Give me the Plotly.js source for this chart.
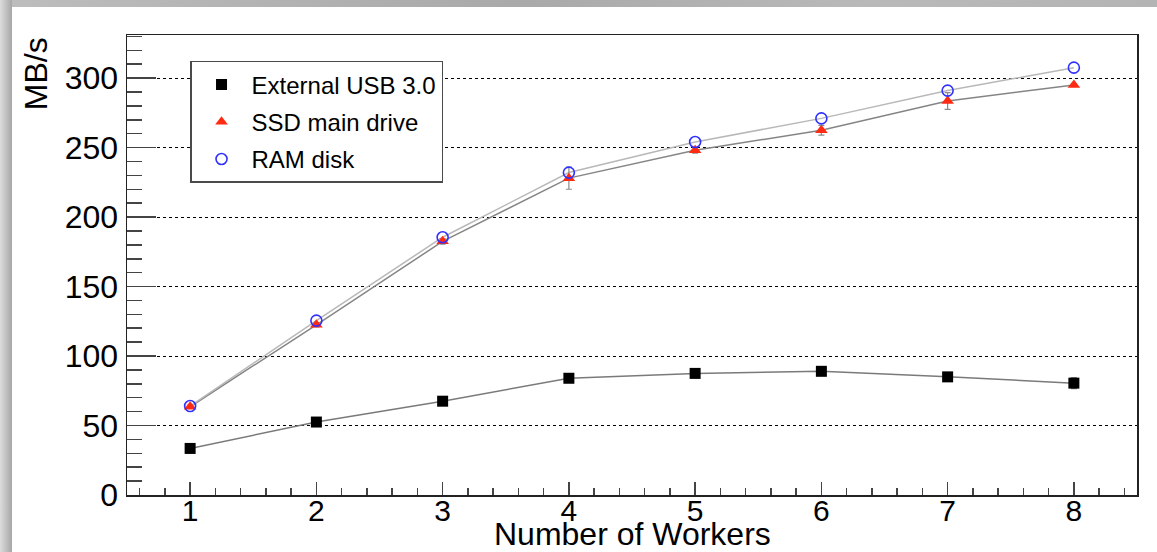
<!DOCTYPE html>
<html>
<head>
<meta charset="utf-8">
<script src="https://cdn.plot.ly/plotly-3.0.1.min.js"></script>
<style>
  html, body { margin: 0; padding: 0; }
  body { width: 1157px; height: 552px; overflow: hidden; position: relative; background: #ffffff; }
  #shadeTop { position: absolute; left: 0; top: 0; width: 1157px; height: 7px;
    background: linear-gradient(to right, #bdbdbd 0%, #a9a9a9 45%, #b9b9b9 75%, #b4b4b4 100%); }
  #shadeLeft { position: absolute; left: 0; top: 0; width: 12px; height: 552px;
    background: linear-gradient(to right, #dcdcdc 0%, #c2c2c2 50%, #a6a6a6 100%); }
  #chart { position: absolute; left: 12px; top: 7px; width: 1145px; height: 545px; }
</style>
</head>
<body>
<div id="shadeTop"></div>
<div id="shadeLeft"></div>
<div id="chart"></div>
<script>
// ---- data ----
const workers = [1, 2, 3, 4, 5, 6, 7, 8];

const usbName = "External USB 3.0";
const usbValues = [33.5, 52.5, 67.5, 84, 87.5, 89, 85, 80.5];
const usbErrors = [1, 1, 1, 1.5, 1, 1, 1.5, 4];

const ssdName = "SSD main drive";
const ssdValues = [63.5, 122.5, 182.5, 228, 248, 262.5, 283.5, 295];
const ssdErrors = [1, 1.5, 2, 8, 2, 3.5, 6, 1];

const ramName = "RAM disk";
const ramValues = [64, 125.5, 185.5, 232, 254, 271, 291, 307.5];

const xTitle = "Number of Workers";
const yTitle = "MB/s";

// ---- styling ----
const FONT = "'Liberation Sans', Arial, Helvetica, sans-serif";

function lineTrace(y, color) {
  return { x: workers, y: y, type: 'scatter', mode: 'lines', showlegend: false,
    hoverinfo: 'skip', line: { color: color, width: 1.5 } };
}
function markTrace(name, y, err, marker, group) {
  const t = { x: workers, y: y, name: name, type: 'scatter', mode: 'markers',
    legendgroup: group, marker: marker };
  if (err) {
    t.error_y = { type: 'data', array: err, visible: true, color: '#8a8a8a', thickness: 1.2, width: 3 };
  }
  return t;
}

const traces = [
  lineTrace(usbValues, '#7a7a7a'),
  lineTrace(ssdValues, '#858585'),
  lineTrace(ramValues, '#b8b8b8'),
  markTrace(usbName, usbValues, usbErrors, { symbol: 'square', size: 11, color: '#000000' }, 'g1'),
  markTrace(ssdName, ssdValues, ssdErrors, { symbol: 'triangle-up', size: 11, color: '#ff2a12' }, 'g2'),
  markTrace(ramName, ramValues, null, { symbol: 'circle-open', size: 11, color: '#3030ff', line: { width: 1.6, color: '#3030ff' } }, 'g3')
];

const layout = {
  width: 1145, height: 545,
  margin: { l: 115, r: 20, t: 28, b: 57 },
  paper_bgcolor: '#ffffff', plot_bgcolor: '#ffffff',
  font: { family: FONT, color: '#000000' },
  showlegend: true,
  legend: {
    x: 0.0624, y: 0.9435, xanchor: 'left', yanchor: 'top',
    bgcolor: '#ffffff', bordercolor: '#4a4a4a', borderwidth: 1.5,
    font: { family: FONT, size: 24, color: '#000000' },
    itemwidth: 50, tracegroupgap: 3
  },
  xaxis: {
    range: [0.5, 8.5], tick0: 0, dtick: 1,
    ticks: 'inside', ticklen: 13, tickwidth: 1.5, tickcolor: '#444444',
    minor: { dtick: 0.2, tick0: 0, ticks: 'inside', ticklen: 7, tickwidth: 1.5, tickcolor: '#444444', showgrid: false },
    showgrid: false, zeroline: false,
    showline: true, mirror: true, linecolor: '#222222', linewidth: 1.5,
    tickfont: { family: FONT, size: 30, color: '#000000' },
    ticklabelstandoff: -12,
    automargin: false
  },
  yaxis: {
    range: [0, 331], tick0: 0, dtick: 50,
    ticks: 'inside', ticklen: 29, tickwidth: 1.5, tickcolor: '#444444',
    minor: { dtick: 10, tick0: 0, ticks: 'inside', ticklen: 15, tickwidth: 1.5, tickcolor: '#444444', showgrid: false },
    showgrid: true, gridcolor: '#000000', gridwidth: 1, griddash: 'dot',
    zeroline: false,
    showline: true, mirror: true, linecolor: '#222222', linewidth: 1.5,
    tickfont: { family: FONT, size: 32, color: '#000000' },
    ticklabelstandoff: 1,
    automargin: false
  },
  annotations: [{
    text: yTitle, xref: 'paper', yref: 'paper',
    x: -0.0901, y: 0.917, xanchor: 'center', yanchor: 'middle',
    textangle: -90, showarrow: false,
    font: { family: FONT, size: 32, color: '#000000' }
  }, {
    text: xTitle, xref: 'paper', yref: 'paper',
    x: 0.5, y: -0.0846, xanchor: 'center', yanchor: 'middle',
    showarrow: false, borderpad: 0,
    font: { family: FONT, size: 32, color: '#000000' }
  }]
};

Plotly.newPlot('chart', traces, layout, { displayModeBar: false, staticPlot: true });
</script>
</body>
</html>
